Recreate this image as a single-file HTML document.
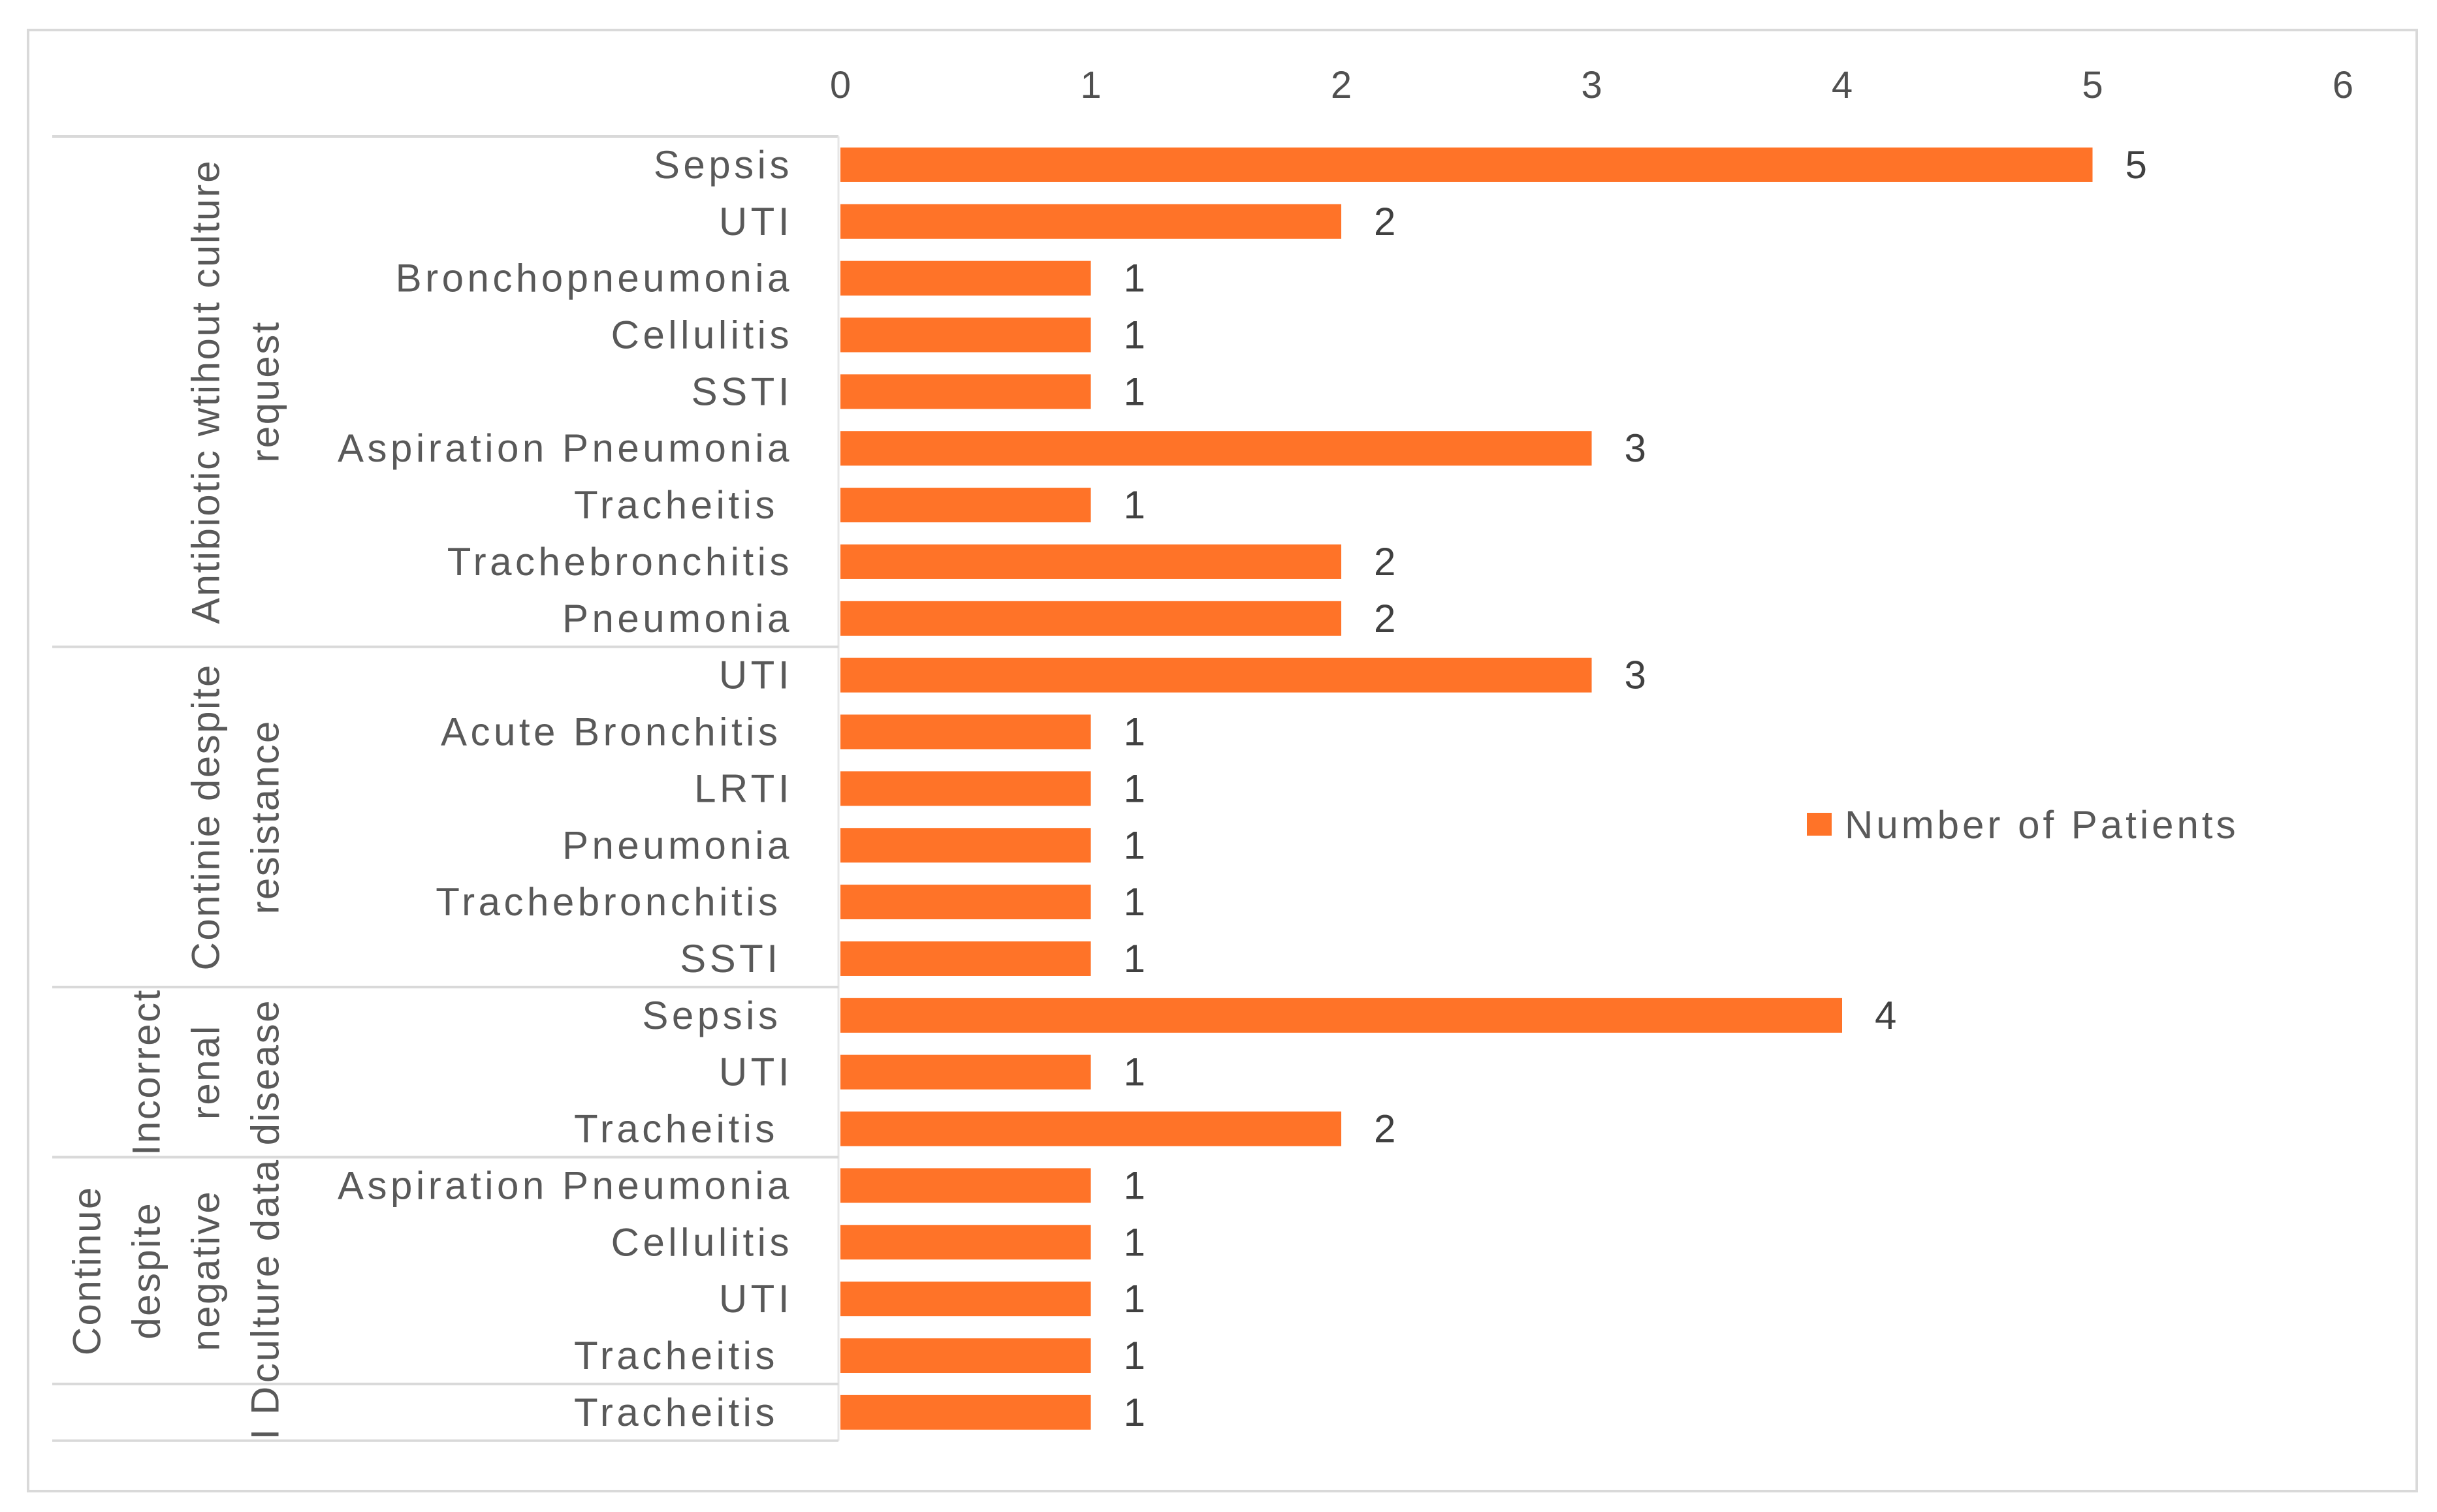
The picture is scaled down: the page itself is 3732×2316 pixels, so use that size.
<!DOCTYPE html>
<html><head><meta charset="utf-8"><style>
html,body{margin:0;padding:0;background:#fff;}
svg{display:block;font-family:"Liberation Sans",sans-serif;}
</style></head><body>
<svg id="chart" width="3732" height="2316" viewBox="0 0 3732 2316" xmlns="http://www.w3.org/2000/svg">
<rect x="43" y="46" width="3658" height="2238" fill="#fff" stroke="#d9d9d9" stroke-width="4"/>
<g id="grid"></g>
<g id="ticks"></g>
<g id="groups"></g>
<g id="cats"></g>
<g id="bars"></g>
<g id="vals"></g>
<g>
<rect x="2767" y="1245" width="38" height="35" fill="#ff7328"/>
<text x="2825" y="1284" font-size="60" letter-spacing="5" fill="#595959">Number of Patients</text>
</g>
</svg>
<script>
const categories = ["Sepsis","UTI","Bronchopneumonia","Cellulitis","SSTI","Aspiration Pneumonia","Tracheitis  ","Trachebronchitis","Pneumonia","UTI","Acute Bronchitis ","LRTI","Pneumonia","Trachebronchitis ","SSTI ","Sepsis ","UTI","Tracheitis  ","Aspiration Pneumonia","Cellulitis","UTI","Tracheitis  ","Tracheitis  "];
const values = [5,2,1,1,1,3,1,2,2,3,1,1,1,1,1,4,1,2,1,1,1,1,1];
const groupNames = [["Antibiotic wtihout culture","request"],["Continie despite","resistance"],["Incorrect","renal","disease"],["Continue","despite","negative","culture data"],["I D"]];
const groupSizes = [9,6,3,4,1];
const tickLabels = ["0","1","2","3","4","5","6"];

const NS="http://www.w3.org/2000/svg";
const x0=1287, unit=383.5, bandTop=209, pitch=86.86, barH=53;
const xs=v=>x0+v*unit;
const yc=i=>bandTop+pitch*(i+0.5);
function mk(tag,parent,attrs){const e=document.createElementNS(NS,tag);for(const k in attrs)e.setAttribute(k,attrs[k]);document.getElementById(parent).appendChild(e);return e;}

tickLabels.forEach((t,i)=>{
  const e=mk('text','ticks',{x:xs(i),y:150,'font-size':58,'text-anchor':'middle',fill:'#505050'});
  
  
  e.textContent=t;
});

let start=0;
const lineTop=mk('line','grid',{x1:80,x2:1284,y1:bandTop,y2:bandTop,stroke:'#d9d9d9','stroke-width':4});


const vline=mk('line','grid',{x1:1284,x2:1284,y1:bandTop,y2:bandTop+pitch*categories.length,stroke:'#e6e6e6','stroke-width':3});


groupSizes.forEach((n,g)=>{
  const yEnd=bandTop+pitch*(start+n);
  const l=mk('line','grid',{x1:80,x2:1284,y1:yEnd,y2:yEnd,stroke:'#d9d9d9','stroke-width':4});
  
  
  const cy=bandTop+pitch*(start+n/2);
  const lines=groupNames[g];
  lines.forEach((s,j)=>{
    const lx=406-(lines.length-1-j)*91;
    const t=mk('text','groups',{x:0,y:0,'font-size':60,'letter-spacing':2.5,'text-anchor':'middle',fill:'#595959','dominant-baseline':'central',transform:`translate(${lx},${cy}) rotate(-90)`});
    
    
    t.textContent=s;
  });
  start+=n;
});

categories.forEach((c,i)=>{
  const t=mk('text','cats',{x:1214,y:yc(i),'font-size':60,'letter-spacing':5.5,'text-anchor':'end','dominant-baseline':'central',fill:'#595959'});
  
  
  const trail=c.length-c.trimEnd().length;
  t.textContent=c.trim()+(trail===2?'\u00a0':trail===1?'\u2009':'');
  const b=mk('rect','bars',{x:x0,y:yc(i)-barH/2,width:xs(values[i])-x0,height:barH,fill:'#ff7328'});
  
  
  const v=mk('text','vals',{x:xs(values[i])+50,y:yc(i),'font-size':60,'dominant-baseline':'central',fill:'#404040'});
  
  
  v.textContent=values[i];
});
</script>
</body></html>
